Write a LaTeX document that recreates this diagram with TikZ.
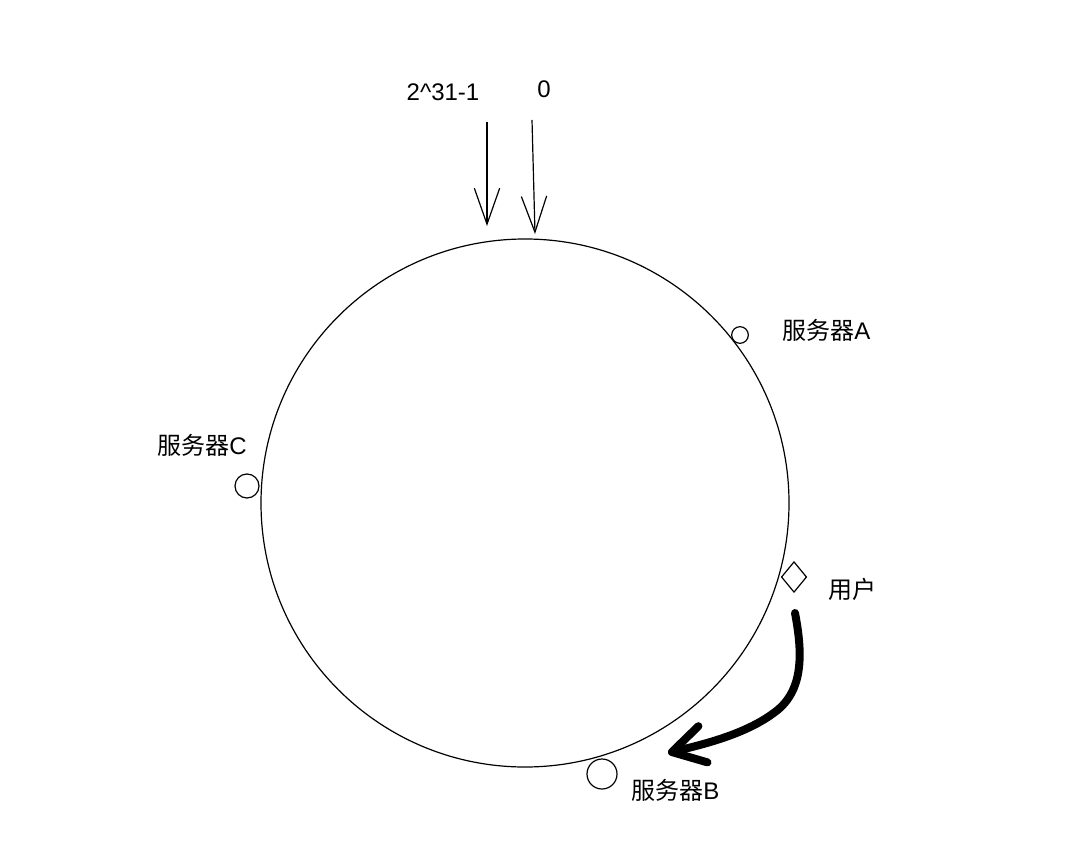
\documentclass[tikz,border=0pt]{standalone}
\usepackage{fontspec}
\setmainfont{Liberation Sans}
\newfontfamily\cjk{Noto Sans CJK SC}
\usetikzlibrary{arrows.meta,shapes.geometric}
\tikzset{
  srv/.style={draw, circle, line width=0.9pt, inner sep=0pt},
  lbl/.style={inner sep=0pt, font=\fontsize{18}{22}\selectfont},
  ptr/.style={line width=0.9pt, -{Straight Barb[length=27pt,width=19pt]}},
}
\begin{document}
\begin{tikzpicture}[x=0.75pt,y=-0.75pt]
        \useasboundingbox (0,0) rectangle (1087,852);
        \draw[line width=0.9pt] (525,503) circle (264);

        % the two ends of the hash range
        \node[lbl] (max) at (443,92) {2\textasciicircum 31-1};
        \node[lbl] (zero) at (544,89) {0};
        \coordinate (maxtop) at (487,122);
        \coordinate (maxtip) at (487,226);
        \coordinate (zerotop) at (532,120);
        \coordinate (zerotip) at (535,234);
        \draw[ptr] (maxtop) -- (maxtip);
        \draw[ptr] (zerotop) -- (zerotip);

        % servers on the ring
        \node[srv, minimum size=12.5pt] (srvA) at (740,335) {};
        \node[lbl, anchor=west] (labA) at (782,330) {{\cjk 服务器}A};
        \node[srv, minimum width=15.5pt, minimum height=18pt] (srvC) at (247,486) {};
        \node[lbl, anchor=west] (labC) at (157,445) {{\cjk 服务器}C};
        \node[srv, minimum size=22.5pt] (srvB) at (602,774) {};
        \node[lbl, anchor=west] (labB) at (631,790) {{\cjk 服务器}B};

        % the user and where it goes
        \node[draw, diamond, line width=0.9pt, inner sep=0pt, minimum width=19pt, minimum height=23pt] (user) at (794,577) {};
        \node[lbl, anchor=west] (labU) at (828,589) {{\cjk 用户}};
        \coordinate (ustart) at (795,613);
        \coordinate (utip) at (668,753);
        \draw[line width=6pt, line cap=round, -{Straight Barb[length=24pt,width=28pt,round]}]
            (ustart) .. controls (802,650) and (805,690) .. (775,712)
            .. controls (745,735) and (700,745) .. (utip);
\end{tikzpicture}
\end{document}
